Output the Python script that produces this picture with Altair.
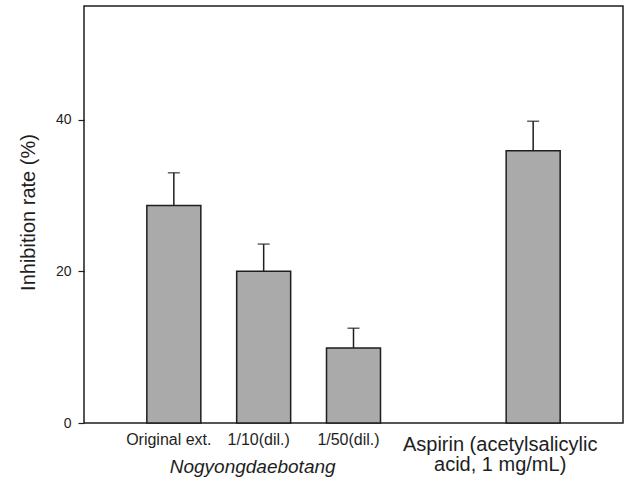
import altair as alt
import pandas as pd

# ---- data ----
categories = ["Original ext.", "1/10(dil.)", "1/50(dil.)", "Aspirin"]
values = [28.7, 20.0, 9.9, 35.9]
errors = [4.3, 3.6, 2.6, 3.9]
tick_labels = ["Original ext.", "1/10(dil.)", "1/50(dil.)",
               "Aspirin (acetylsalicylic\nacid, 1 mg/mL)"]
group_label = "Nogyongdaebotang"
y_ticks = [0, 20, 40]
y_title = "Inhibition rate (%)"

df = pd.DataFrame({"cat": categories, "value": values, "err": errors,
                   "label": tick_labels})
df["upper"] = df["value"] + df["err"]
grp = pd.DataFrame({"cat": [categories[1]], "label": [group_label]})

FONT = "Liberation Sans"
INK = "#1e1e1e"

x_domain = ["_gap0"] + categories[:3] + ["_gap4", categories[3], "_gap6"]
xs = alt.Scale(type="point", domain=x_domain, padding=0)
ys = alt.Scale(domain=[0, 55], nice=False, zero=True)
X = alt.X("cat:N", scale=xs, axis=None)

base = alt.Chart(df)

bars = base.mark_bar(size=54, fill="#aaaaaa", stroke=INK, strokeWidth=1.5).encode(
    x=X,
    y=alt.Y("value:Q", scale=ys,
            axis=alt.Axis(values=y_ticks, title=y_title, domain=False, grid=False,
                          ticks=True, tickSize=6, tickColor=INK, tickWidth=1.2,
                          labelFont=FONT, labelFontSize=14, labelColor=INK,
                          labelPadding=7,
                          titleFont=FONT, titleFontSize=20, titleFontWeight="normal",
                          titleColor=INK, titleAngle=270, titleX=-56, titleY=206,
                          titleAlign="center", titleBaseline="middle")),
)

rules = base.mark_rule(color=INK, strokeWidth=1.5).encode(
    x=X, y=alt.Y("value:Q", scale=ys), y2="upper:Q")

caps = base.mark_tick(color=INK, size=12, thickness=1.5, orient="horizontal").encode(
    x=X, y=alt.Y("upper:Q", scale=ys))

lab3 = base.transform_filter(
    alt.FieldOneOfPredicate(field="cat", oneOf=categories[:3])
).mark_text(font=FONT, fontSize=16, color=INK, dx=-5, align="center",
            baseline="alphabetic").encode(x=X, y=alt.value(439), text="label:N")

labA = base.transform_filter(
    alt.FieldEqualPredicate(field="cat", equal=categories[3])
).mark_text(font=FONT, fontSize=20, color=INK, dx=-33, align="center",
            baseline="alphabetic", lineBreak="\n", lineHeight=20).encode(
    x=X, y=alt.value(445), text="label:N")

labG = alt.Chart(grp).mark_text(font=FONT, fontSize=19, fontStyle="italic", color=INK,
                                dx=-11, align="center", baseline="alphabetic").encode(
    x=X, y=alt.value(467), text="label:N")

chart = alt.layer(bars, rules, caps, lab3, labA, labG).properties(
    width=539, height=417,
    autosize=alt.AutoSizeParams(type="none"),
    padding={"left": 84, "top": 6, "right": 5, "bottom": 61},
    background="white",
).configure_view(stroke=INK, strokeWidth=1.5)

chart.save("out.html", embed_options={"renderer": "svg", "actions": False})
